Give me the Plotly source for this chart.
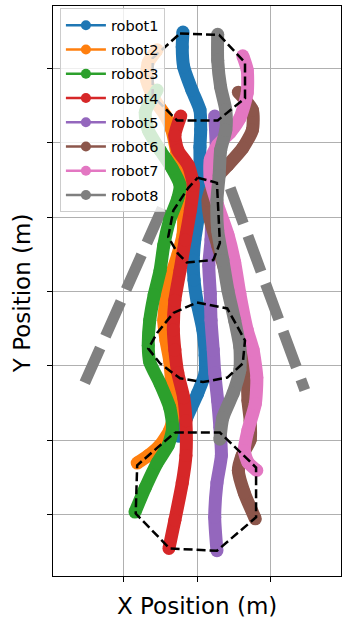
import plotly.graph_objects as go

names = ["robot1", "robot2", "robot3", "robot4", "robot5", "robot6", "robot7", "robot8"]
colors = ["#1f77b4", "#ff7f0e", "#2ca02c", "#d62728", "#9467bd", "#8c564b", "#e377c2", "#7f7f7f"]

r1x = [-0.24, -0.14, 0.01, 0.11, 0.11, 0.08, 0.01, -0.04, -0.05, -0.03, 0.01, 0.01, 0.04, 0.04, 0.05, 0.04, -0.07, -0.18, -0.20, -0.19]
r1y = [-1.95, -1.70, -1.37, -1.10, -0.86, -0.52, -0.19, 0.15, 0.42, 0.69, 0.96, 1.27, 1.63, 1.94, 2.17, 2.44, 2.71, 3.02, 3.29, 3.49]

r2x = [-0.81, -0.66, -0.50, -0.37, -0.30, -0.34, -0.37, -0.42, -0.45, -0.42, -0.37, -0.26, -0.19, -0.18, -0.19, -0.23, -0.28, -0.34, -0.43, -0.57, -0.68, -0.66, -0.54]
r2y = [-2.31, -2.21, -2.07, -1.87, -1.60, -1.26, -0.93, -0.66, -0.39, -0.12, 0.15, 0.49, 0.76, 1.09, 1.36, 1.63, 1.90, 2.17, 2.37, 2.57, 2.84, 3.08, 3.25]

r3x = [-0.84, -0.70, -0.54, -0.39, -0.33, -0.37, -0.50, -0.64, -0.66, -0.64, -0.58, -0.50, -0.45, -0.37, -0.26, -0.23, -0.34, -0.50, -0.66, -0.70, -0.54]
r3y = [-2.97, -2.64, -2.31, -2.07, -1.84, -1.56, -1.24, -0.95, -0.73, -0.39, -0.05, 0.28, 0.62, 0.96, 1.25, 1.43, 1.66, 1.90, 2.17, 2.41, 2.71]

r4x = [-0.38, -0.30, -0.20, -0.15, -0.15, -0.18, -0.26, -0.30, -0.32, -0.30, -0.23, -0.16, -0.09, -0.05, -0.12, -0.26, -0.30, -0.22]
r4y = [-3.46, -3.08, -2.58, -2.21, -1.74, -1.43, -1.10, -0.79, -0.52, -0.12, 0.28, 0.69, 1.09, 1.43, 1.70, 1.90, 2.10, 2.36]

r5x = [0.27, 0.24, 0.27, 0.33, 0.31, 0.28, 0.24, 0.22, 0.19, 0.18, 0.16, 0.19, 0.20, 0.22, 0.26, 0.24]
r5y = [-3.49, -3.04, -2.58, -2.21, -1.83, -1.47, -1.10, -0.79, -0.39, -0.03, 0.35, 0.69, 1.09, 1.50, 1.90, 2.36]

r6x = [0.79, 0.64, 0.56, 0.61, 0.72, 0.72, 0.69, 0.68, 0.65, 0.58, 0.47, 0.38, 0.28, 0.18, 0.15, 0.24, 0.42, 0.62, 0.75, 0.75, 0.56]
r6y = [-3.06, -2.71, -2.41, -2.21, -2.00, -1.74, -1.47, -1.06, -0.73, -0.39, -0.05, 0.28, 0.62, 0.96, 1.23, 1.50, 1.70, 1.93, 2.17, 2.44, 2.68]

r7x = [0.81, 0.69, 0.64, 0.69, 0.79, 0.81, 0.76, 0.68, 0.58, 0.51, 0.42, 0.28, 0.18, 0.18, 0.28, 0.45, 0.58, 0.68, 0.68, 0.62]
r7y = [-2.41, -2.30, -2.14, -1.87, -1.51, -1.16, -0.79, -0.52, -0.03, 0.39, 0.76, 1.16, 1.50, 1.77, 1.97, 2.14, 2.33, 2.67, 2.98, 3.17]

r8x = [0.31, 0.35, 0.49, 0.58, 0.58, 0.51, 0.42, 0.35, 0.28, 0.27, 0.30, 0.32, 0.39, 0.39, 0.32, 0.28, 0.28]
r8y = [-1.99, -1.70, -1.37, -1.06, -0.75, -0.39, 0.01, 0.42, 0.82, 1.23, 1.56, 1.90, 2.17, 2.44, 2.75, 3.11, 3.46]

# formation outlines (closed polygons)
f1x = [-0.30, 0.31, 0.80, 0.80, 0.27, -0.37, -0.83, -0.81, -0.30]
f1y = [-1.90, -1.90, -2.37, -3.04, -3.49, -3.46, -2.99, -2.34, -1.90]
f2x = [0.00, 0.41, 0.65, 0.62, 0.41, 0.08, -0.23, -0.50, -0.66, -0.54, -0.32, 0.00]
f2y = [-0.15, -0.23, -0.66, -0.97, -1.16, -1.22, -1.17, -0.97, -0.77, -0.56, -0.29, -0.15]
f3x = [0.01, 0.27, 0.31, 0.22, -0.14, -0.26, -0.39, -0.32, -0.12, 0.01]
f3y = [1.53, 1.46, 0.65, 0.42, 0.39, 0.51, 0.73, 1.09, 1.39, 1.53]
f4x = [-0.23, 0.30, 0.65, 0.65, 0.28, -0.27, -0.60, -0.60, -0.23]
f4y = [3.47, 3.45, 3.08, 2.60, 2.30, 2.30, 2.63, 3.14, 3.47]

# corridor boundaries
wall_left_x = [-1.52, -0.47]
wall_left_y = [-1.23, 1.12]
wall_right_x = [0.45, 1.46]
wall_right_y = [1.39, -1.33]

xticks = [-1, 0, 1]
yticks = [-3, -2, -1, 0, 1, 2, 3]

paths = [(r1x, r1y), (r2x, r2y), (r3x, r3y), (r4x, r4y),
         (r5x, r5y), (r6x, r6y), (r7x, r7y), (r8x, r8y)]
forms = [(f1x, f1y), (f2x, f2y), (f3x, f3y), (f4x, f4y)]

fig = go.Figure()

for wx, wy in [(wall_left_x, wall_left_y), (wall_right_x, wall_right_y)]:
    fig.add_trace(go.Scatter(x=wx, y=wy, mode="lines", showlegend=False, hoverinfo="skip",
                             line=dict(color="#808080", width=11, dash="38px,13px")))

for name, c, (px, py) in zip(names, colors, paths):
    fig.add_trace(go.Scatter(x=px, y=py, mode="lines+markers", name=name, legendgroup=name,
                             showlegend=False, line=dict(color=c, width=13, shape="spline", smoothing=0.6),
                             marker=dict(color=c, size=13)))

for fx, fy in forms:
    fig.add_trace(go.Scatter(x=fx, y=fy, mode="lines", showlegend=False, hoverinfo="skip",
                             line=dict(color="black", width=2.5, dash="9px,4px")))

for name, c in zip(names, colors):
    fig.add_trace(go.Scatter(x=[None], y=[None], mode="lines+markers", name=name, legendgroup=name,
                             line=dict(color=c, width=2.5), marker=dict(color=c, size=10)))

axis_common = dict(showgrid=True, gridcolor="#b0b0b0", gridwidth=1, zeroline=False,
                   showline=True, linecolor="black", linewidth=1, mirror=True,
                   ticks="outside", ticklen=5, tickcolor="black", showticklabels=False)

fig.update_layout(
    width=346, height=624,
    margin=dict(l=53, r=5, t=6, b=48),
    paper_bgcolor="white", plot_bgcolor="white",
    font=dict(family="DejaVu Sans", color="black"),
    xaxis=dict(range=[-1.95, 1.95], tickvals=xticks, **axis_common),
    yaxis=dict(range=[-3.83, 3.84], tickvals=yticks, **axis_common),
    legend=dict(x=0.024, y=0.996, xanchor="left", yanchor="top",
                bgcolor="rgba(255,255,255,0.8)", bordercolor="#cccccc", borderwidth=1,
                font=dict(size=14.5, family="DejaVu Sans", color="black"),
                tracegroupgap=2.4, itemwidth=40),
    annotations=[
        dict(text="X Position (m)", xref="paper", yref="paper", x=0.5, y=-0.053,
             xanchor="center", yanchor="middle", showarrow=False,
             font=dict(size=23, family="DejaVu Sans", color="black")),
        dict(text="Y Position (m)", xref="paper", yref="paper", x=-0.108, y=0.496,
             xanchor="center", yanchor="middle", showarrow=False, textangle=-90,
             font=dict(size=23, family="DejaVu Sans", color="black")),
    ],
)

fig.write_html("out.html", config={"displayModeBar": False},
               post_script="document.body.style.margin='0';document.body.style.overflow='hidden';")
